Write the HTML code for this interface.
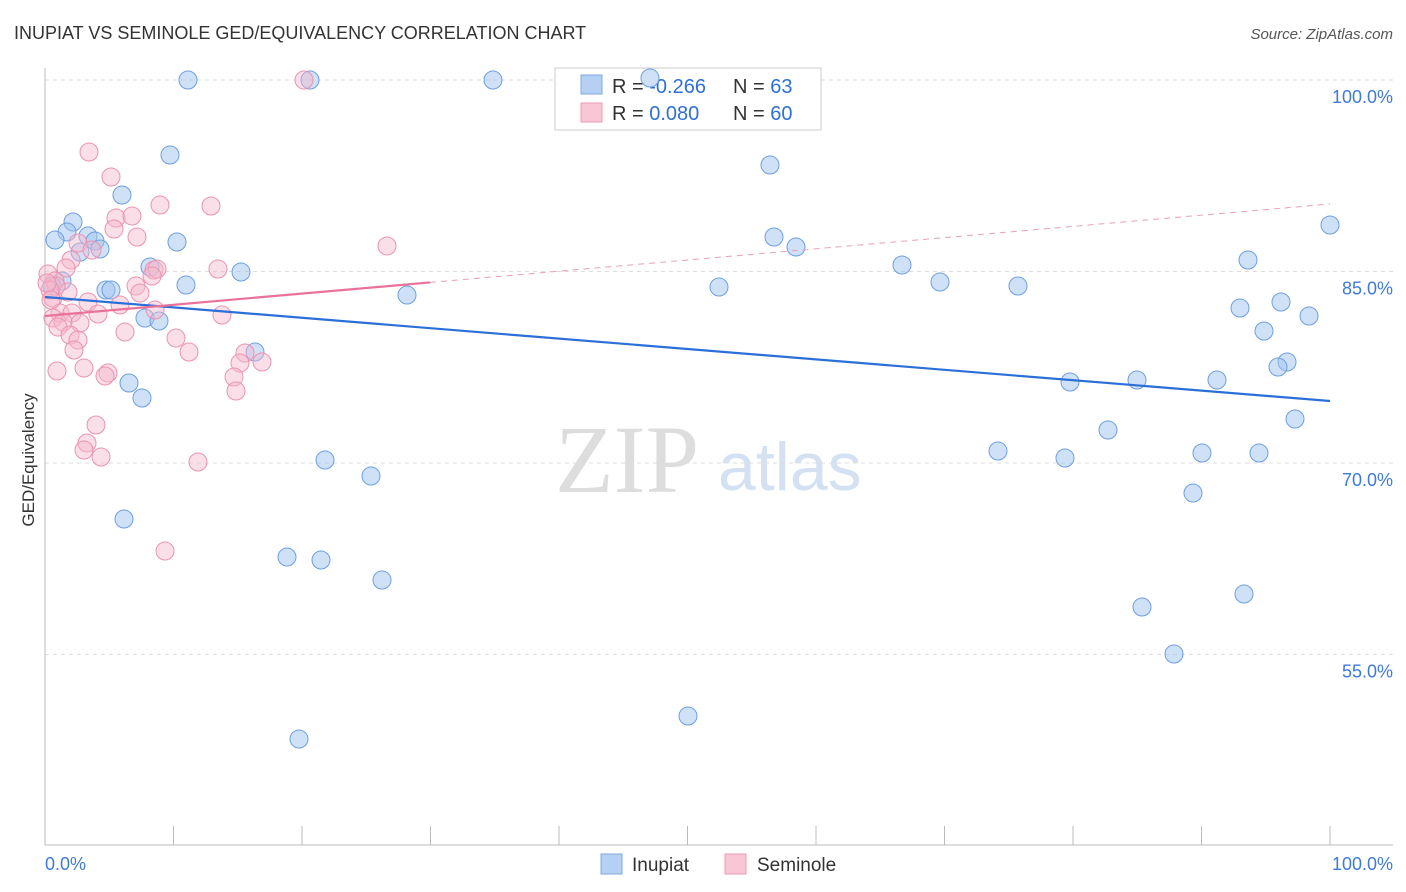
<!DOCTYPE html>
<html><head><meta charset="utf-8">
<style>
body{margin:0;background:#fff;font-family:"Liberation Sans",sans-serif;}
svg{display:block}
</style></head>
<body>
<svg id="chart" width="1406" height="892">
<text x="14" y="39" font-size="18" fill="#333">INUPIAT VS SEMINOLE GED/EQUIVALENCY CORRELATION CHART</text>
<text x="1393" y="39" font-size="15" fill="#555" font-style="italic" text-anchor="end">Source: ZipAtlas.com</text>
<text x="34" y="460" font-size="17" fill="#333" transform="rotate(-90 34 460)" text-anchor="middle">GED/Equivalency</text>
<text x="555" y="492" font-size="96" fill="#ddd" font-family="Liberation Serif,serif">ZIP</text>
<text x="718" y="490" font-size="68" fill="#d3e1f3">atlas</text>
<g id="grid"></g>
<g>
<rect x="555" y="68" width="266" height="62" fill="#fff" stroke="#ccc"/>
<rect x="581" y="75" width="21" height="19" fill="#b6d0f3" stroke="#7ea8e3"/>
<rect x="581" y="103" width="21" height="19" fill="#f9c6d6" stroke="#ee9ab5"/>
<text x="612" y="93" font-size="20" fill="#333">R = <tspan fill="#2f6fd6">-0.266</tspan></text>
<text x="733" y="93" font-size="20" fill="#333">N = <tspan fill="#2f6fd6">63</tspan></text>
<text x="612" y="120" font-size="20" fill="#333">R = <tspan fill="#2f6fd6"> 0.080</tspan></text>
<text x="733" y="120" font-size="20" fill="#333">N = <tspan fill="#2f6fd6">60</tspan></text>
</g>
<g id="pts"></g>
<g id="lines"></g>
<g>
<rect x="601" y="854" width="21" height="20" fill="#b6d0f3" stroke="#7ea8e3"/>
<text x="632" y="871" font-size="19" fill="#333">Inupiat</text>
<rect x="725" y="854" width="21" height="20" fill="#f9c6d6" stroke="#ee9ab5"/>
<text x="757" y="871" font-size="19" fill="#333">Seminole</text>
</g>
<text x="45" y="870" font-size="18" fill="#3f7ad9">0.0%</text>
<text x="1393" y="870" font-size="18" fill="#3f7ad9" text-anchor="end">100.0%</text>
</svg>
<script>
const yTicks=[100,85,70,55];
const yTickLabels=["100.0%","85.0%","70.0%","55.0%"];
const inupiatPx=[[188,80],[310,80],[493,80],[650,78],[170,155],[770,165],[122,195],[73,222],[67,232],[55,240],[88,236],[95,241],[100,249],[80,252],[177,242],[774,237],[796,247],[1330,225],[62,281],[150,267],[241,272],[186,285],[106,290],[111,290],[407,295],[719,287],[902,265],[940,282],[1018,286],[1248,260],[1240,308],[1281,302],[1264,331],[1309,316],[145,318],[159,321],[255,352],[129,383],[142,398],[1287,362],[1278,367],[1070,382],[1137,380],[1217,380],[1295,419],[1108,430],[998,451],[1065,458],[1202,453],[1259,453],[325,460],[371,476],[1193,493],[124,519],[287,557],[321,560],[382,580],[1142,607],[1244,594],[1174,654],[688,716],[299,739],[52,286]];
const seminolePx=[[304,80],[89,152],[111,177],[160,205],[211,206],[116,218],[132,216],[114,229],[137,237],[387,246],[78,243],[92,250],[71,260],[66,268],[48,274],[154,270],[157,269],[218,269],[152,276],[55,281],[136,286],[140,293],[68,292],[53,298],[88,302],[120,305],[155,310],[60,313],[72,313],[98,314],[53,318],[63,322],[80,323],[58,327],[222,315],[125,332],[70,335],[78,340],[176,338],[74,350],[189,352],[245,353],[240,363],[262,362],[84,368],[57,371],[108,373],[105,376],[234,377],[236,391],[96,425],[87,443],[84,450],[101,457],[198,462],[165,551],[56,286],[50,290],[47,283],[51,300]];
const toX=p=>(p-45)/12.85, toY=p=>100-(p-80)/12.767;
const inupiatX=inupiatPx.map(p=>toX(p[0])), inupiatY=inupiatPx.map(p=>toY(p[1]));
const seminoleX=seminolePx.map(p=>toX(p[0])), seminoleY=seminolePx.map(p=>toY(p[1]));
const inupiatTrend=[toY(297),toY(401)];
const seminoleTrend=[toY(316),toY(204)];
const sx=v=>45+v*12.85, sy=v=>80+(100-v)*12.767;
const NS="http://www.w3.org/2000/svg";
function mk(t,a,parent){const e=document.createElementNS(NS,t);for(const k in a)e.setAttribute(k,a[k]);document.getElementById(parent).appendChild(e);return e;}
yTicks.forEach((v,i)=>{
 const l=mk('line',{x1:45,x2:1393,y1:sy(v),y2:sy(v),stroke:'#ddd','stroke-dasharray':'4,4'},'grid');
 
 
 const t=mk('text',{x:1393,y:sy(v)+23,'font-size':18,fill:'#3f7ad9','text-anchor':'end'},'grid');
 t.textContent=yTickLabels[i];
 
 
});
const ax=mk('line',{x1:45,x2:45,y1:68,y2:845,stroke:'#bbb'},'grid');


const bx=mk('line',{x1:45,x2:1393,y1:845,y2:845,stroke:'#bbb'},'grid');


for(let i=0;i<=10;i++){const tk=mk('line',{x1:sx(i*10),x2:sx(i*10),y1:826,y2:845,stroke:'#bbb'},'grid');
 
 }
inupiatX.forEach((x,i)=>{const c=mk('circle',{cx:sx(x),cy:sy(inupiatY[i]),r:9,fill:'rgba(160,195,240,0.5)',stroke:'#6e9fe0','stroke-width':1},'pts');
 
 });
seminoleX.forEach((x,i)=>{const c=mk('circle',{cx:sx(x),cy:sy(seminoleY[i]),r:9,fill:'rgba(245,184,204,0.45)',stroke:'#eb93b0','stroke-width':1},'pts');
 
 });
const bl=mk('line',{x1:sx(0),y1:sy(inupiatTrend[0]),x2:sx(100),y2:sy(inupiatTrend[1]),stroke:'#2b6fd8','stroke-width':2.2},'lines');


const s0=seminoleTrend[0], s1=seminoleTrend[1], sAt=x=>s0+(s1-s0)*x/100, xm=toX(430);
const pl=mk('line',{x1:sx(0),y1:sy(s0),x2:sx(xm),y2:sy(sAt(xm)),stroke:'#e8729a','stroke-width':2.2},'lines');


const pd=mk('line',{x1:sx(xm),y1:sy(sAt(xm)),x2:sx(100),y2:sy(s1),stroke:'#e8a0b8','stroke-width':1,'stroke-dasharray':'6,5'},'lines');


</script>
</body></html>
